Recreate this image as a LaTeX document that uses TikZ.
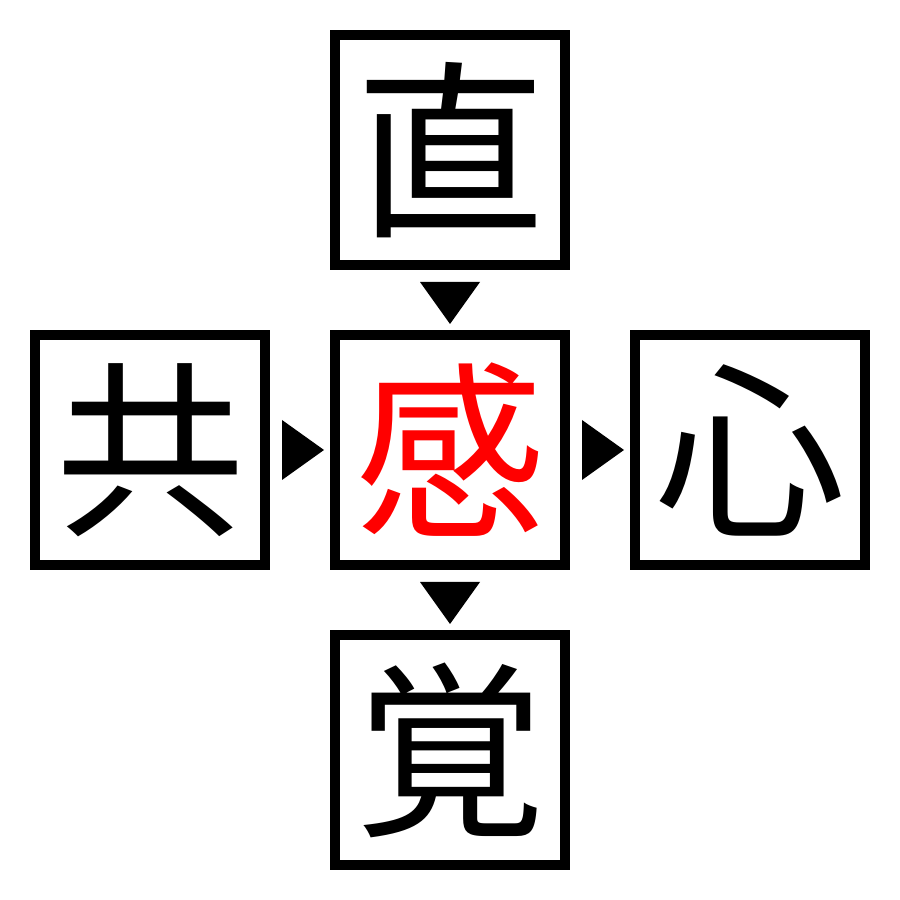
\documentclass[tikz,border=0pt]{standalone}
\usepackage{fontspec}
\usetikzlibrary{calc}
\newfontfamily\cjk{Noto Sans CJK JP}
\begin{document}
\begin{tikzpicture}[x=1pt,y=1pt,
  cell/.style={draw=black,line width=10pt,minimum size=230pt,inner sep=0pt,outer sep=0pt,
    font=\cjk\fontsize{190}{190}\selectfont},
  tri/.style={fill=black,draw=none}]
\useasboundingbox (0,0) rectangle (900,900);
\node[cell] (top) at (450,750) {直};
\node[cell,text=red] (mid) at (450,450) {感};
\node[cell] (left) at (150,450) {共};
\node[cell] (right) at (750,450) {心};
\node[cell] (bot) at (450,150) {覚};
% down triangle between top and mid
\path[tri] ($(top.south)+(-30,-17)$) -- ($(top.south)+(30,-17)$) -- ($(top.south)+(0,-59)$) -- cycle;
% down triangle between mid and bot
\path[tri] ($(mid.south)+(-30,-17)$) -- ($(mid.south)+(30,-17)$) -- ($(mid.south)+(0,-59)$) -- cycle;
% right triangle between left and mid
\path[tri] ($(left.east)+(17,30)$) -- ($(left.east)+(17,-30)$) -- ($(left.east)+(59,0)$) -- cycle;
% right triangle between mid and right
\path[tri] ($(mid.east)+(17,30)$) -- ($(mid.east)+(17,-30)$) -- ($(mid.east)+(59,0)$) -- cycle;
\end{tikzpicture}
\end{document}
